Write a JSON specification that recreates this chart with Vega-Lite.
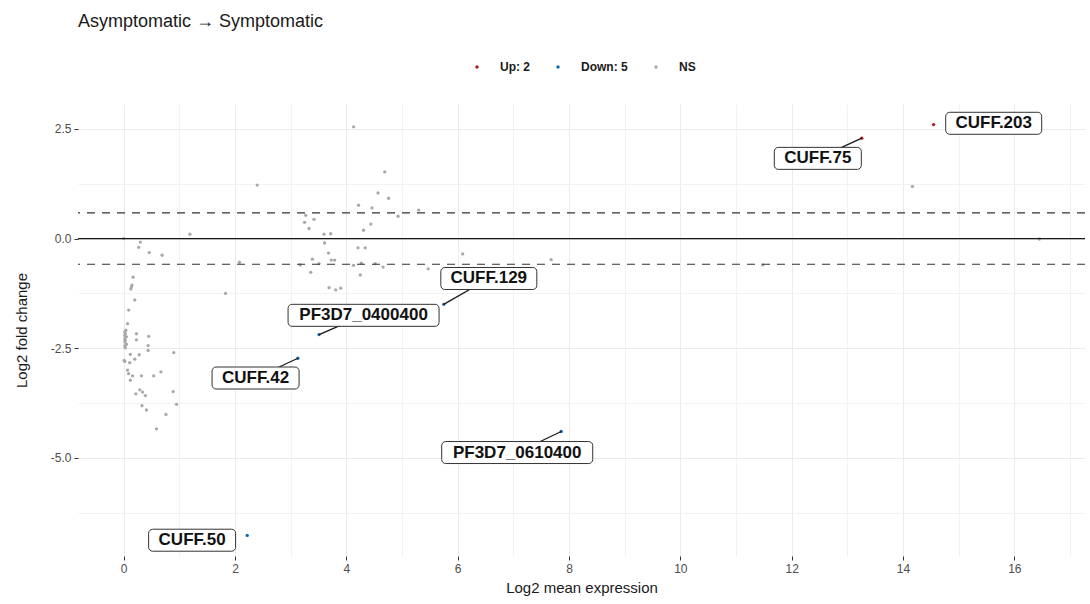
{
  "$schema": "https://vega.github.io/schema/vega-lite/v6.json",
  "autosize": {"type": "none"},
  "width": 1007,
  "height": 452,
  "padding": {"left": 78, "top": 104, "right": 5, "bottom": 48},
  "background": "white",
  "title": {
    "text": "Asymptomatic \u2192 Symptomatic",
    "anchor": "start",
    "frame": "group",
    "offset": 30,
    "fontSize": 18,
    "fontWeight": "normal",
    "font": "Liberation Sans",
    "color": "#1a1a1a"
  },
  "config": {
    "view": {"stroke": null},
    "font": "Liberation Sans",
    "axis": {
      "domain": false,
      "gridColor": "#EBEBEB",
      "tickColor": "#333333",
      "tickSize": 4,
      "labelColor": "#4D4D4D",
      "labelFontSize": 12,
      "labelFont": "Liberation Sans",
      "titleFont": "Liberation Sans",
      "titleFontSize": 15,
      "titleFontWeight": "normal",
      "titleColor": "#1a1a1a"
    }
  },
  "datasets": {
    "pts": [
      {"expr": 0.00, "lfc": 0.00, "sig": "NS"},
      {"expr": 1.19, "lfc": 0.10, "sig": "NS"},
      {"expr": 0.30, "lfc": -0.08, "sig": "NS"},
      {"expr": 0.27, "lfc": -0.20, "sig": "NS"},
      {"expr": 0.46, "lfc": -0.32, "sig": "NS"},
      {"expr": 0.69, "lfc": -0.38, "sig": "NS"},
      {"expr": 0.17, "lfc": -0.88, "sig": "NS"},
      {"expr": 0.15, "lfc": -1.06, "sig": "NS"},
      {"expr": 0.14, "lfc": -1.10, "sig": "NS"},
      {"expr": 0.13, "lfc": -1.15, "sig": "NS"},
      {"expr": 0.20, "lfc": -1.40, "sig": "NS"},
      {"expr": 0.09, "lfc": -1.63, "sig": "NS"},
      {"expr": 0.07, "lfc": -1.94, "sig": "NS"},
      {"expr": 0.04, "lfc": -2.09, "sig": "NS"},
      {"expr": 0.02, "lfc": -2.13, "sig": "NS"},
      {"expr": 0.03, "lfc": -2.17, "sig": "NS"},
      {"expr": 0.02, "lfc": -2.21, "sig": "NS"},
      {"expr": 0.05, "lfc": -2.24, "sig": "NS"},
      {"expr": 0.02, "lfc": -2.28, "sig": "NS"},
      {"expr": 0.03, "lfc": -2.32, "sig": "NS"},
      {"expr": 0.02, "lfc": -2.36, "sig": "NS"},
      {"expr": 0.05, "lfc": -2.41, "sig": "NS"},
      {"expr": 0.02, "lfc": -2.45, "sig": "NS"},
      {"expr": 0.03, "lfc": -2.49, "sig": "NS"},
      {"expr": 0.01, "lfc": -2.78, "sig": "NS"},
      {"expr": 0.02, "lfc": -2.80, "sig": "NS"},
      {"expr": 0.23, "lfc": -2.17, "sig": "NS"},
      {"expr": 0.23, "lfc": -2.31, "sig": "NS"},
      {"expr": 0.45, "lfc": -2.23, "sig": "NS"},
      {"expr": 0.44, "lfc": -2.44, "sig": "NS"},
      {"expr": 0.44, "lfc": -2.55, "sig": "NS"},
      {"expr": 0.90, "lfc": -2.60, "sig": "NS"},
      {"expr": 0.12, "lfc": -2.64, "sig": "NS"},
      {"expr": 0.28, "lfc": -2.65, "sig": "NS"},
      {"expr": 0.20, "lfc": -2.75, "sig": "NS"},
      {"expr": 0.11, "lfc": -2.83, "sig": "NS"},
      {"expr": 0.07, "lfc": -3.00, "sig": "NS"},
      {"expr": 0.09, "lfc": -3.08, "sig": "NS"},
      {"expr": 0.16, "lfc": -3.13, "sig": "NS"},
      {"expr": 0.32, "lfc": -3.13, "sig": "NS"},
      {"expr": 0.54, "lfc": -3.13, "sig": "NS"},
      {"expr": 0.67, "lfc": -3.04, "sig": "NS"},
      {"expr": 0.12, "lfc": -3.23, "sig": "NS"},
      {"expr": 0.22, "lfc": -3.54, "sig": "NS"},
      {"expr": 0.29, "lfc": -3.45, "sig": "NS"},
      {"expr": 0.34, "lfc": -3.50, "sig": "NS"},
      {"expr": 0.39, "lfc": -3.58, "sig": "NS"},
      {"expr": 0.89, "lfc": -3.49, "sig": "NS"},
      {"expr": 0.95, "lfc": -3.78, "sig": "NS"},
      {"expr": 0.33, "lfc": -3.81, "sig": "NS"},
      {"expr": 0.41, "lfc": -3.91, "sig": "NS"},
      {"expr": 0.76, "lfc": -4.01, "sig": "NS"},
      {"expr": 0.59, "lfc": -4.34, "sig": "NS"},
      {"expr": 2.40, "lfc": 1.22, "sig": "NS"},
      {"expr": 1.83, "lfc": -1.25, "sig": "NS"},
      {"expr": 2.08, "lfc": -0.54, "sig": "NS"},
      {"expr": 4.13, "lfc": 2.55, "sig": "NS"},
      {"expr": 4.69, "lfc": 1.52, "sig": "NS"},
      {"expr": 4.57, "lfc": 1.04, "sig": "NS"},
      {"expr": 4.76, "lfc": 0.92, "sig": "NS"},
      {"expr": 4.22, "lfc": 0.76, "sig": "NS"},
      {"expr": 4.46, "lfc": 0.70, "sig": "NS"},
      {"expr": 5.30, "lfc": 0.65, "sig": "NS"},
      {"expr": 4.93, "lfc": 0.51, "sig": "NS"},
      {"expr": 3.27, "lfc": 0.53, "sig": "NS"},
      {"expr": 3.42, "lfc": 0.44, "sig": "NS"},
      {"expr": 3.25, "lfc": 0.37, "sig": "NS"},
      {"expr": 4.44, "lfc": 0.33, "sig": "NS"},
      {"expr": 3.33, "lfc": 0.23, "sig": "NS"},
      {"expr": 4.31, "lfc": 0.19, "sig": "NS"},
      {"expr": 3.60, "lfc": 0.10, "sig": "NS"},
      {"expr": 3.72, "lfc": 0.11, "sig": "NS"},
      {"expr": 3.61, "lfc": -0.10, "sig": "NS"},
      {"expr": 4.21, "lfc": -0.21, "sig": "NS"},
      {"expr": 4.34, "lfc": -0.21, "sig": "NS"},
      {"expr": 3.68, "lfc": -0.33, "sig": "NS"},
      {"expr": 6.09, "lfc": -0.35, "sig": "NS"},
      {"expr": 3.73, "lfc": -0.49, "sig": "NS"},
      {"expr": 3.79, "lfc": -0.49, "sig": "NS"},
      {"expr": 3.39, "lfc": -0.47, "sig": "NS"},
      {"expr": 7.68, "lfc": -0.48, "sig": "NS"},
      {"expr": 3.51, "lfc": -0.57, "sig": "NS"},
      {"expr": 3.17, "lfc": -0.60, "sig": "NS"},
      {"expr": 4.13, "lfc": -0.61, "sig": "NS"},
      {"expr": 4.27, "lfc": -0.56, "sig": "NS"},
      {"expr": 4.52, "lfc": -0.57, "sig": "NS"},
      {"expr": 4.66, "lfc": -0.65, "sig": "NS"},
      {"expr": 5.47, "lfc": -0.69, "sig": "NS"},
      {"expr": 3.36, "lfc": -0.77, "sig": "NS"},
      {"expr": 4.25, "lfc": -0.83, "sig": "NS"},
      {"expr": 3.69, "lfc": -1.12, "sig": "NS"},
      {"expr": 3.81, "lfc": -1.17, "sig": "NS"},
      {"expr": 3.90, "lfc": -1.13, "sig": "NS"},
      {"expr": 14.17, "lfc": 1.19, "sig": "NS"},
      {"expr": 16.45, "lfc": -0.01, "sig": "NS"},
      {"expr": 11.48, "lfc": -0.60, "sig": "NS"},
      {"expr": 14.55, "lfc": 2.60, "sig": "Up: 2"},
      {"expr": 13.26, "lfc": 2.29, "sig": "Up: 2"},
      {"expr": 5.75, "lfc": -1.50, "sig": "Down: 5"},
      {"expr": 3.51, "lfc": -2.19, "sig": "Down: 5"},
      {"expr": 3.13, "lfc": -2.73, "sig": "Down: 5"},
      {"expr": 7.86, "lfc": -4.40, "sig": "Down: 5"},
      {"expr": 2.22, "lfc": -6.77, "sig": "Down: 5"}
    ],
    "labs": [
      {"name": "CUFF.203", "expr": 14.55, "lfc": 2.60, "lx": 15.63, "ly": 2.63},
      {"name": "CUFF.75", "expr": 13.26, "lfc": 2.29, "lx": 12.47, "ly": 1.83},
      {"name": "CUFF.129", "expr": 5.75, "lfc": -1.50, "lx": 6.56, "ly": -0.91},
      {"name": "PF3D7_0400400", "expr": 3.51, "lfc": -2.19, "lx": 4.31, "ly": -1.75},
      {"name": "CUFF.42", "expr": 3.13, "lfc": -2.73, "lx": 2.37, "ly": -3.18},
      {"name": "PF3D7_0610400", "expr": 7.86, "lfc": -4.40, "lx": 7.07, "ly": -4.88},
      {"name": "CUFF.50", "expr": 2.22, "lfc": -6.77, "lx": 1.23, "ly": -6.88}
    ],
    "hl0": [{"h": 0}],
    "hlfc": [{"h": 0.585}, {"h": -0.585}]
  },
  "layer": [
    {
      "data": {"name": "pts"},
      "mark": {"type": "point", "filled": true, "opacity": 1, "size": 11},
      "encoding": {
        "x": {
          "field": "expr", "type": "quantitative", "title": "Log2 mean expression",
          "scale": {"domain": [-0.82, 17.27], "nice": false, "zero": false},
          "axis": {
            "values": [0,1,2,3,4,5,6,7,8,9,10,11,12,13,14,15,16,17],
            "labelExpr": "datum.value % 2 == 0 ? format(datum.value, 'd') : ''",
            "tickColor": {"condition": {"test": "datum.value % 2 != 0", "value": "transparent"}, "value": "#333333"},
            "gridColor": {"condition": {"test": "datum.value % 2 != 0", "value": "#F2F2F2"}, "value": "#EBEBEB"},
            "labelPadding": 3,
            "titlePadding": 6
          }
        },
        "y": {
          "field": "lfc", "type": "quantitative", "title": "Log2 fold change",
          "scale": {"domain": [-7.24, 3.07], "nice": false, "zero": false},
          "axis": {
            "values": [-6.25, -5, -3.75, -2.5, -1.25, 0, 1.25, 2.5],
            "labelExpr": "datum.value % 2.5 == 0 ? replace(format(datum.value, '.1f'), '\u2212', '-') : ''",
            "tickColor": {"condition": {"test": "datum.value % 2.5 != 0", "value": "transparent"}, "value": "#333333"},
            "gridColor": {"condition": {"test": "datum.value % 2.5 != 0", "value": "#F2F2F2"}, "value": "#EBEBEB"},
            "labelPadding": 3,
            "titlePadding": 21
          }
        },
        "color": {
          "field": "sig", "type": "nominal",
          "scale": {"domain": ["Up: 2", "Down: 5", "NS"], "range": ["#B31B21", "#1465AC", "#A9A9A9"]},
          "legend": {
            "title": null,
            "orient": "none",
            "direction": "horizontal",
            "legendX": 393,
            "legendY": -43,
            "padding": 0,
            "symbolType": "circle",
            "symbolSize": 12,
            "symbolStrokeWidth": 0,
            "labelFontSize": 12,
            "labelFontWeight": "bold",
            "labelColor": "#1a1a1a",
            "labelFont": "Liberation Sans",
            "labelOffset": 17,
            "columnPadding": 22
          }
        }
      }
    },
    {
      "data": {"name": "hl0"},
      "mark": {"type": "rule", "color": "#1a1a1a", "strokeWidth": 1.2},
      "encoding": {"y": {"field": "h", "type": "quantitative", "title": "Log2 fold change"}}
    },
    {
      "data": {"name": "hlfc"},
      "mark": {"type": "rule", "color": "#333333", "strokeWidth": 1.2, "strokeDash": [8, 7]},
      "encoding": {"y": {"field": "h", "type": "quantitative", "title": "Log2 fold change"}}
    },
    {
      "data": {"name": "labs"},
      "transform": [{"filter": "datum.name != 'CUFF.203' && datum.name != 'CUFF.50'"}],
      "mark": {"type": "rule", "color": "#1a1a1a", "strokeWidth": 1.3},
      "encoding": {
        "x": {"field": "expr", "type": "quantitative", "title": "Log2 mean expression"},
        "y": {"field": "lfc", "type": "quantitative", "title": "Log2 fold change"},
        "x2": {"field": "lx"},
        "y2": {"field": "ly"}
      }
    },
    {
      "data": {"name": "labs"},
      "transform": [{"filter": "length(datum.name) == 7"}],
      "mark": {"type": "rect", "width": 87, "height": 22, "fill": "white", "stroke": "#333333", "strokeWidth": 1, "cornerRadius": 4},
      "encoding": {
        "x": {"field": "lx", "type": "quantitative", "title": "Log2 mean expression"},
        "y": {"field": "ly", "type": "quantitative", "title": "Log2 fold change"}
      }
    },
    {
      "data": {"name": "labs"},
      "transform": [{"filter": "length(datum.name) == 8"}],
      "mark": {"type": "rect", "width": 96, "height": 22, "fill": "white", "stroke": "#333333", "strokeWidth": 1, "cornerRadius": 4},
      "encoding": {
        "x": {"field": "lx", "type": "quantitative", "title": "Log2 mean expression"},
        "y": {"field": "ly", "type": "quantitative", "title": "Log2 fold change"}
      }
    },
    {
      "data": {"name": "labs"},
      "transform": [{"filter": "length(datum.name) == 13"}],
      "mark": {"type": "rect", "width": 151, "height": 22, "fill": "white", "stroke": "#333333", "strokeWidth": 1, "cornerRadius": 4},
      "encoding": {
        "x": {"field": "lx", "type": "quantitative", "title": "Log2 mean expression"},
        "y": {"field": "ly", "type": "quantitative", "title": "Log2 fold change"}
      }
    },
    {
      "data": {"name": "labs"},
      "mark": {"type": "text", "font": "Liberation Sans", "fontWeight": "bold", "fontSize": 17, "align": "center", "baseline": "middle", "color": "#111111"},
      "encoding": {
        "x": {"field": "lx", "type": "quantitative", "title": "Log2 mean expression"},
        "y": {"field": "ly", "type": "quantitative", "title": "Log2 fold change"},
        "text": {"field": "name"}
      }
    }
  ]
}
